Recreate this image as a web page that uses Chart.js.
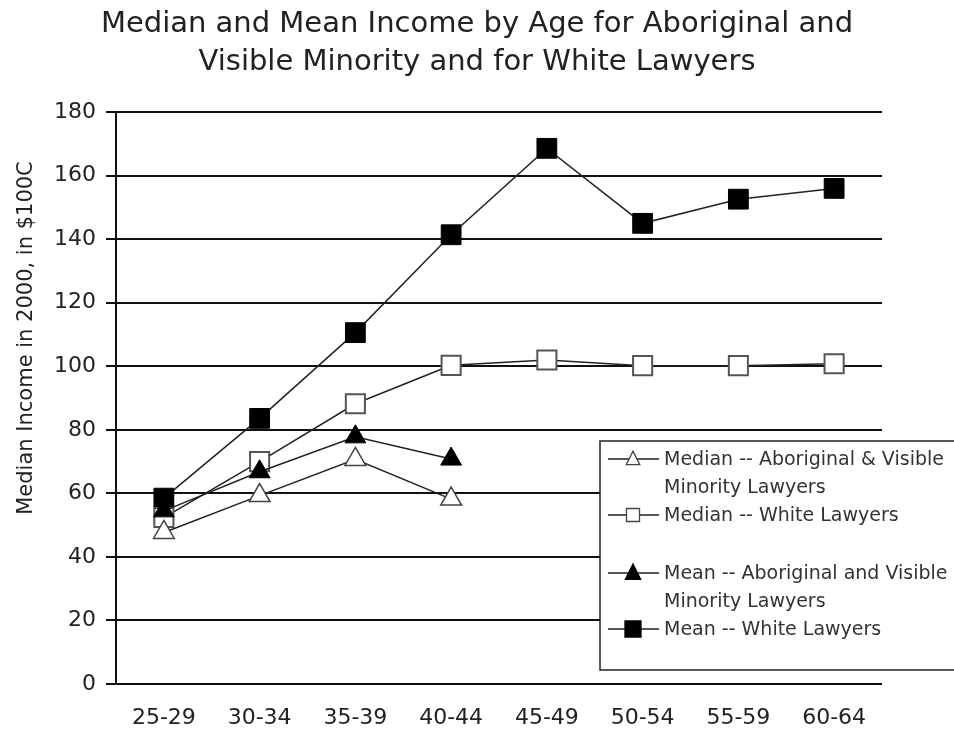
<!DOCTYPE html>
<html>
<head>
<meta charset="utf-8">
<script src="https://cdn.jsdelivr.net/npm/chart.js@4/dist/chart.umd.min.js"></script>
<style>
  html, body { margin: 0; padding: 0; background: #fff; }
  #wrap { width: 954px; height: 731px; position: relative; }
</style>
</head>
<body>
<div id="wrap"><canvas id="c"></canvas></div>
<script>
const titleLines = ['Median and Mean Income by Age for Aboriginal and', 'Visible Minority and for White Lawyers'];
const yAxisTitle = 'Median Income in 2000, in $100C';
const categories = ['25-29', '30-34', '35-39', '40-44', '45-49', '50-54', '55-59', '60-64'];
const yTicks = [0, 20, 40, 60, 80, 100, 120, 140, 160, 180];

const seriesNames = [
  'Median -- Aboriginal & Visible Minority Lawyers',
  'Median -- White Lawyers',
  'Mean -- Aboriginal and Visible Minority Lawyers',
  'Mean -- White Lawyers'
];
const medianAborig = [47.7, 59.3, 70.7, 58.2, null, null, null, null];
const medianWhite  = [52.4, 70.0, 88.2, 100.3, 102.0, 100.2, 100.2, 100.8];
const meanAborig   = [54.5, 66.8, 77.8, 70.8, null, null, null, null];
const meanWhite    = [58.5, 83.6, 110.6, 141.4, 168.6, 145.0, 152.6, 156.0];

const FONT = 'DejaVu Sans';

const legendEntries = [
  { lines: ['Median -- Aboriginal & Visible', 'Minority Lawyers'], style: 'triangle', fill: '#fff', y: 459, size: 7.5 },
  { lines: ['Median -- White Lawyers'], style: 'rect', fill: '#fff', y: 515, size: 6.5 },
  { lines: ['Mean -- Aboriginal and Visible', 'Minority Lawyers'], style: 'triangle', fill: '#000', y: 573, size: 8.5 },
  { lines: ['Mean -- White Lawyers'], style: 'rect', fill: '#000', y: 629, size: 8 }
];

const decorPlugin = {
  id: 'decor',
  afterDraw(chart) {
    const ctx = chart.ctx;
    // y axis title
    ctx.save();
    ctx.translate(27, 338);
    ctx.rotate(-Math.PI / 2);
    ctx.font = '21px "' + FONT + '"';
    ctx.fillStyle = '#222';
    ctx.textAlign = 'center';
    ctx.textBaseline = 'middle';
    ctx.fillText(yAxisTitle, 0, 0);
    ctx.restore();

    // legend box
    ctx.save();
    ctx.fillStyle = '#fff';
    ctx.strokeStyle = '#222';
    ctx.lineWidth = 1.5;
    ctx.fillRect(600, 441, 360, 229);
    ctx.strokeRect(600, 441, 360, 229);
    ctx.font = '19px "' + FONT + '"';
    ctx.textBaseline = 'middle';
    ctx.textAlign = 'left';
    legendEntries.forEach(e => {
      ctx.strokeStyle = '#222';
      ctx.lineWidth = 1.5;
      ctx.beginPath();
      ctx.moveTo(608, e.y);
      ctx.lineTo(659, e.y);
      ctx.stroke();
      const cx = 633, cy = e.y, s = e.size;
      ctx.beginPath();
      if (e.style === 'rect') {
        ctx.rect(cx - s, cy - s, 2 * s, 2 * s);
      } else {
        ctx.moveTo(cx, cy - s * 1.05);
        ctx.lineTo(cx + s * 0.9, cy + s * 0.75);
        ctx.lineTo(cx - s * 0.9, cy + s * 0.75);
        ctx.closePath();
      }
      ctx.fillStyle = e.fill;
      ctx.fill();
      ctx.lineWidth = 1.3;
      ctx.strokeStyle = e.fill === '#000' ? '#000' : '#444';
      ctx.stroke();
      ctx.fillStyle = '#333';
      e.lines.forEach((t, i) => ctx.fillText(t, 664, e.y + 1 + i * 28));
    });
    ctx.restore();
  }
};

const lineColor = '#222';
new Chart(document.getElementById('c'), {
  type: 'line',
  data: {
    labels: categories,
    datasets: [
      { label: seriesNames[2], data: meanAborig, borderColor: lineColor, borderWidth: 1.5,
        pointStyle: 'triangle', pointRadius: 12, pointBackgroundColor: '#000', pointBorderColor: '#000', pointBorderWidth: 1 },
      { label: seriesNames[0], data: medianAborig, borderColor: lineColor, borderWidth: 1.5,
        pointStyle: 'triangle', pointRadius: 12, pointBackgroundColor: '#fff', pointBorderColor: '#444', pointBorderWidth: 1.5 },
      { label: seriesNames[1], data: medianWhite, borderColor: lineColor, borderWidth: 1.5,
        pointStyle: 'rect', pointRadius: 13.5, pointBackgroundColor: '#fff', pointBorderColor: '#555', pointBorderWidth: 2 },
      { label: seriesNames[3], data: meanWhite, borderColor: lineColor, borderWidth: 1.5,
        pointStyle: 'rect', pointRadius: 14, pointBackgroundColor: '#000', pointBorderColor: '#000', pointBorderWidth: 1 }
    ]
  },
  options: {
    responsive: true,
    maintainAspectRatio: false,
    devicePixelRatio: 1,
    animation: false,
    spanGaps: false,
    layout: { padding: { left: 0, right: 0, top: 0, bottom: 0 } },
    plugins: {
      legend: { display: false },
      tooltip: { enabled: false },
      title: {
        display: true,
        text: titleLines,
        color: '#222',
        font: { family: FONT, size: 29, weight: 'normal', lineHeight: 1.33 },
        padding: { top: 5, bottom: 30 }
      }
    },
    scales: {
      x: {
        type: 'category',
        offset: true,
        grid: { display: false, drawTicks: false },
        border: { display: false },
        ticks: { color: '#222', font: { family: FONT, size: 22 }, padding: 21, maxRotation: 0, autoSkip: false },
        afterFit(s) { s.height = 47; }
      },
      y: {
        min: 0, max: 180,
        afterBuildTicks(s) { s.ticks = yTicks.map(v => ({ value: v })); },
        grid: { color: '#111', lineWidth: 2, tickLength: 10, drawTicks: true },
        border: { display: true, color: '#111', width: 2 },
        ticks: { color: '#222', font: { family: FONT, size: 22 }, padding: 10 },
        afterFit(s) { s.width = 116; }
      },
      yRight: {
        position: 'right',
        min: 0, max: 180,
        grid: { display: false, drawOnChartArea: false, drawTicks: false },
        border: { display: false },
        ticks: { display: false },
        afterFit(s) { s.width = 72; }
      }
    }
  },
  plugins: [decorPlugin]
});
</script>
</body>
</html>
